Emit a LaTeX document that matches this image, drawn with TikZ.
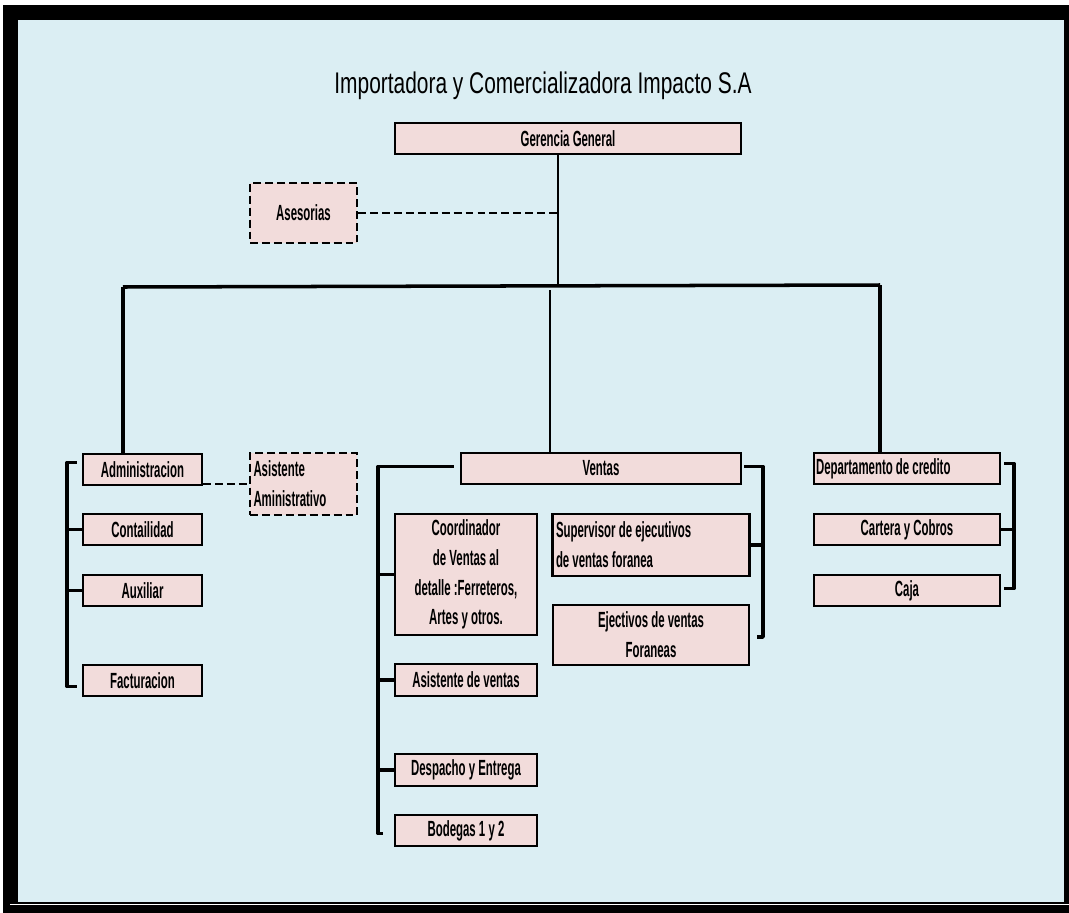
\documentclass[tikz,border=0pt]{standalone}
\usepackage{fontspec}
\newfontfamily\orgfont{Liberation Sans}[FakeStretch=0.52]
\newfontfamily\titlefont{Liberation Sans}[FakeStretch=0.7]
\usetikzlibrary{calc}
\definecolor{bgblue}{RGB}{219,238,243}
\definecolor{boxpink}{RGB}{242,220,219}
\tikzset{
  orgbox/.style={draw=black,line width=1.2pt,fill=boxpink,inner sep=1pt,
    font=\orgfont\bfseries\fontsize{12.5}{17}\selectfont},
  dashbox/.style={orgbox,dash pattern=on 4.5pt off 2.3pt},
  wh/.style 2 args={minimum width=#1*0.02cm,minimum height=#2*0.02cm},
  orgline/.style={line width=2pt,line join=round},
  stemline/.style={line width=1.3pt},
  dashline/.style={line width=1.1pt,dash pattern=on 4.5pt off 2.3pt}
}
\begin{document}
\begin{tikzpicture}[x=0.02cm,y=-0.02cm]
\useasboundingbox (0,0) rectangle (1069,913);
% frame
\fill[black] (3,5) rectangle (1069,913);
\fill[bgblue] (18,20) rectangle (1064,902);
\draw[white,line width=0.4pt] (10,904.5) -- (1069,904.5);

\node[font=\titlefont\fontsize{17}{20}\selectfont] (title) at (543,86) {Importadora y Comercializadora Impacto S.A};

% top
\node[orgbox,wh={346}{31}] (gg) at (568,138.5) {Gerencia General};
\node[dashbox,wh={107}{60}] (ases) at (303.5,213) {Asesorias};

% administracion
\node[orgbox,wh={119}{31}] (adm) at (142.5,469.5) {Administracion};
\node[dashbox,wh={107}{62},align=flush left,text width=100*0.02cm,inner xsep=2pt] (asis) at (303.5,484) {Asistente\\Aministrativo};
\node[orgbox,wh={119}{31}] (cont) at (142.5,529.5) {Contailidad};
\node[orgbox,wh={119}{31}] (aux) at (142.5,590.5) {Auxiliar};
\node[orgbox,wh={119}{31}] (fac) at (142.5,680.5) {Facturacion};

% ventas
\node[orgbox,wh={280}{31}] (ventas) at (601,468.5) {Ventas};
\node[orgbox,wh={142}{121},align=center] (coord) at (466,574.5) {Coordinador\\de Ventas al\\detalle :Ferreteros,\\Artes y otros.};
\node[orgbox,wh={196}{62},align=flush left,text width=190*0.02cm,inner xsep=2pt] (sup) at (651,545) {Supervisor de ejecutivos\\de ventas foranea};
\node[orgbox,wh={196}{60},align=center] (ejec) at (651,635) {Ejectivos de ventas\\Foraneas};
\node[orgbox,wh={142}{32}] (asv) at (466,680) {Asistente de ventas};
\node[orgbox,wh={142}{32}] (desp) at (466,770) {Despacho y Entrega};
\node[orgbox,wh={142}{31}] (bod) at (466,830.5) {Bodegas 1 y 2};

% credito
\node[orgbox,wh={186}{31},align=flush left,text width=182*0.02cm,inner xsep=1pt] (dep) at (907,468.5) {Departamento de credito};
\node[orgbox,wh={186}{31}] (cart) at (907,529.5) {Cartera y Cobros};
\node[orgbox,wh={186}{31}] (caja) at (907,590.5) {Caja};

% main bar
\coordinate (hub) at (558,285);
\coordinate (barL) at (123,287);
\coordinate (barM) at (550,290);
\coordinate (barR) at (880,285);
\draw[stemline] (gg.south -| hub) -- (hub);
\draw[dashline] (ases.east) -- (ases.east -| hub);
\draw[orgline] (barL) -- (barR);
\draw[orgline] (barL) -- (barL |- adm.north);
\draw[stemline] (barM) -- (barM |- ventas.north);
\draw[orgline] (barR) -- (barR |- dep.north);

% brackets
\draw[dashline] (adm.east |- asis.center) -- (asis.west);
\draw[orgline] ($(adm.west)+(-5,-7)$) -- ++(-10,0) |- ($(fac.west)+(-5,6)$);
\foreach \n in {cont,aux} \draw[orgline] (\n.west) -- ++(-17,0);

\draw[orgline] ($(ventas.west)+(-6,-2)$) -| ($(bod.west)+(-16,3)$) -- ++(5,0);
\foreach \n in {coord,asv,desp} \draw[orgline] (\n.west) -- ++(-16,0);

\draw[orgline] ($(ventas.east)+(2,-2)$) -| ($(ejec.east)+(13,2)$) -- ++(-6,0);
\draw[orgline] (sup.east) -- ++(13,0);

\draw[orgline] ($(dep.east)+(3,-5)$) -| ($(caja.east)+(13,-2)$) -- ++(-10,0);
\draw[orgline] (cart.east) -- ++(13,0);
\end{tikzpicture}
\end{document}
